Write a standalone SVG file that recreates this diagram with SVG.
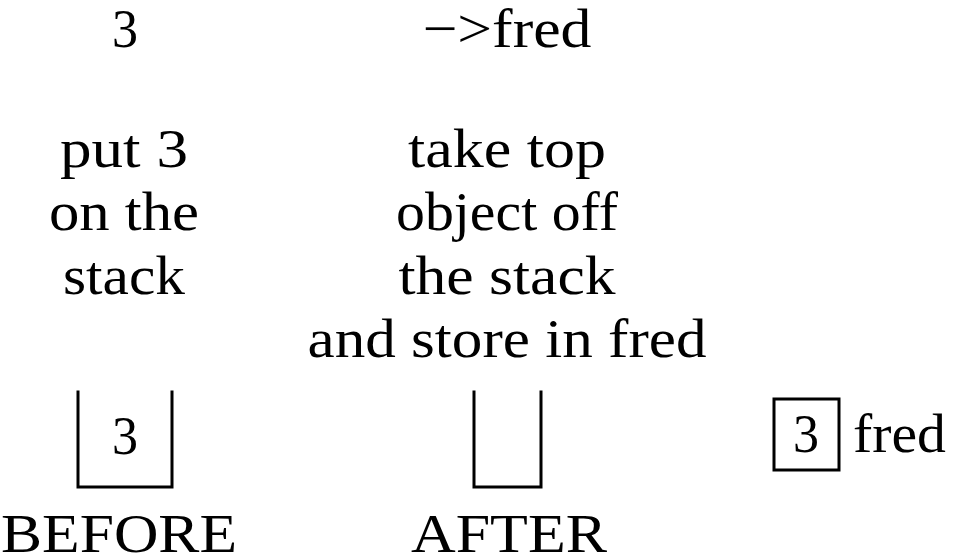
<svg xmlns="http://www.w3.org/2000/svg" width="953" height="554" viewBox="0 0 953 554">
  <style>
    .t { font-family: "Liberation Serif", "DejaVu Serif", serif; font-size: 55px; fill: #000; text-anchor: middle; }
    .ts { font-family: "Liberation Serif", "DejaVu Serif", serif; font-size: 55px; fill: #000; text-anchor: start; }
    .ln { fill: none; stroke: #000; stroke-width: 3; stroke-linecap: square; }
  </style>
  <rect width="953" height="554" fill="#fff"/>

  <g id="instr-push">
    <text class="t" x="125" y="47" textLength="26" lengthAdjust="spacingAndGlyphs">3</text>
  </g>
  <g id="instr-pop">
    <text class="t" x="507" y="47" textLength="169" lengthAdjust="spacingAndGlyphs">−&gt;fred</text>
  </g>

  <g id="desc-push">
    <text class="t" x="124" y="167" textLength="128" lengthAdjust="spacingAndGlyphs">put 3</text>
    <text class="t" x="124" y="230" textLength="150" lengthAdjust="spacingAndGlyphs">on the</text>
    <text class="t" x="124" y="294" textLength="122" lengthAdjust="spacingAndGlyphs">stack</text>
  </g>
  <g id="desc-pop">
    <text class="t" x="507" y="167" textLength="198" lengthAdjust="spacingAndGlyphs">take top</text>
    <text class="t" x="507" y="230" textLength="222" lengthAdjust="spacingAndGlyphs">object off</text>
    <text class="t" x="507" y="294" textLength="217" lengthAdjust="spacingAndGlyphs">the stack</text>
    <text class="t" x="507" y="357" textLength="399" lengthAdjust="spacingAndGlyphs">and store in fred</text>
  </g>

  <g id="stack-before">
    <path class="ln" d="M78,392 V487 H172 V392"/>
    <text class="t" x="125" y="454" textLength="26" lengthAdjust="spacingAndGlyphs">3</text>
    <text class="t" x="119" y="552" textLength="236" lengthAdjust="spacingAndGlyphs">BEFORE</text>
  </g>

  <g id="stack-after">
    <path class="ln" d="M474,392 V487 H541 V392"/>
    <text class="t" x="509" y="552" textLength="196" lengthAdjust="spacingAndGlyphs">AFTER</text>
  </g>

  <g id="var-fred">
    <rect class="ln" x="774" y="399" width="65" height="71"/>
    <text class="t" x="806" y="452" textLength="26" lengthAdjust="spacingAndGlyphs">3</text>
    <text class="ts" x="853" y="452" textLength="93" lengthAdjust="spacingAndGlyphs">fred</text>
  </g>
</svg>
